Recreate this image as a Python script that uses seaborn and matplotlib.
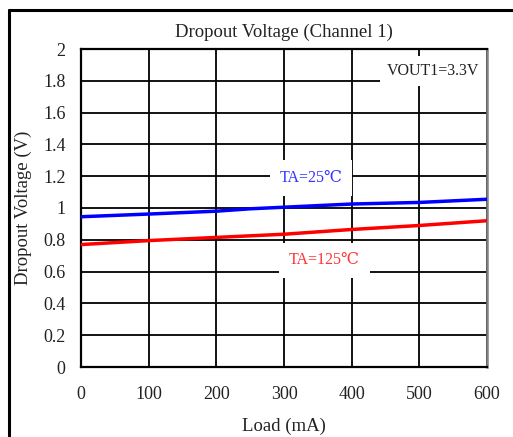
import matplotlib
matplotlib.use("Agg")
import matplotlib.pyplot as plt
import seaborn as sns
import pandas as pd
from matplotlib.lines import Line2D

load_ma = [0, 100, 200, 250, 300, 400, 500, 600]
v_25c = [0.945, 0.962, 0.98, 0.995, 1.005, 1.025, 1.035, 1.055]
load_ma_125 = [0, 100, 200, 300, 400, 500, 600]
v_125c = [0.77, 0.795, 0.815, 0.835, 0.865, 0.89, 0.92]
x_ticks = [0, 100, 200, 300, 400, 500, 600]
y_ticks = [0, 0.2, 0.4, 0.6, 0.8, 1.0, 1.2, 1.4, 1.6, 1.8, 2.0]
y_tick_labels = ["0", "0.2", "0.4", "0.6", "0.8", "1", "1.2", "1.4", "1.6", "1.8", "2"]

sns.set_theme(style="white")
plt.rcParams['font.family'] = ['Liberation Serif', 'DejaVu Serif']

df25 = pd.DataFrame({"Load": load_ma, "V": v_25c})
df125 = pd.DataFrame({"Load": load_ma_125, "V": v_125c})

fig = plt.figure(figsize=(5.13, 4.37), dpi=100)
ax = fig.add_axes([81/513, 1-367/437, (487-81)/513, (367-49)/437])

# outer frame (top and left visible)
fig.add_artist(Line2D([9/513, 9/513], [0, 1-10/437], color='black', lw=2.2, transform=fig.transFigure))
fig.add_artist(Line2D([9/513, 1], [1-10/437, 1-10/437], color='black', lw=2.2, transform=fig.transFigure))

sns.lineplot(data=df25, x="Load", y="V", ax=ax, color=(0, 0, 1), lw=2.5, zorder=3)
sns.lineplot(data=df125, x="Load", y="V", ax=ax, color=(1, 0, 0), lw=2.5, zorder=3)

ax.set_xlim(0, 600)
ax.set_ylim(0, 2)
ax.set_xticks(x_ticks)
ax.set_yticks(y_ticks)
ax.set_yticklabels(y_tick_labels)
ax.grid(True, color='black', lw=1.3)
ax.set_axisbelow(True)
ax.tick_params(axis='both', length=0, labelsize=13, colors='#222222')
ax.tick_params(axis='x', pad=14)
ax.tick_params(axis='y', pad=11)
for s in ['left', 'bottom', 'top']:
    ax.spines[s].set_color('black')
    ax.spines[s].set_linewidth(1.6)
ax.spines['right'].set_color('#808080')
ax.spines['right'].set_linewidth(1.8)

ax.set_xlabel("Load (mA)", fontsize=13.5, color='#222222', labelpad=10)
ax.set_ylabel("Dropout Voltage (V)", fontsize=13.5, color='#222222', labelpad=8)
ax.set_title("Dropout Voltage (Channel 1)", fontsize=13.5, color='#222222', pad=9)

ax.text(520, 1.86, "VOUT1=3.3V", ha='center', va='center', fontsize=11.5, color='#222222',
        bbox=dict(facecolor='white', edgecolor='none', pad=5), zorder=4)
ax.text(340, 1.19, "TA=25℃", ha='center', va='center', fontsize=11.5, color='#3333ff',
        bbox=dict(facecolor='white', edgecolor='none', pad=7), zorder=4)
ax.text(360, 0.67, "TA=125℃", ha='center', va='center', fontsize=11.5, color='#ff3333',
        bbox=dict(facecolor='white', edgecolor='none', pad=7), zorder=4)

fig.savefig("out.png", dpi=100)
